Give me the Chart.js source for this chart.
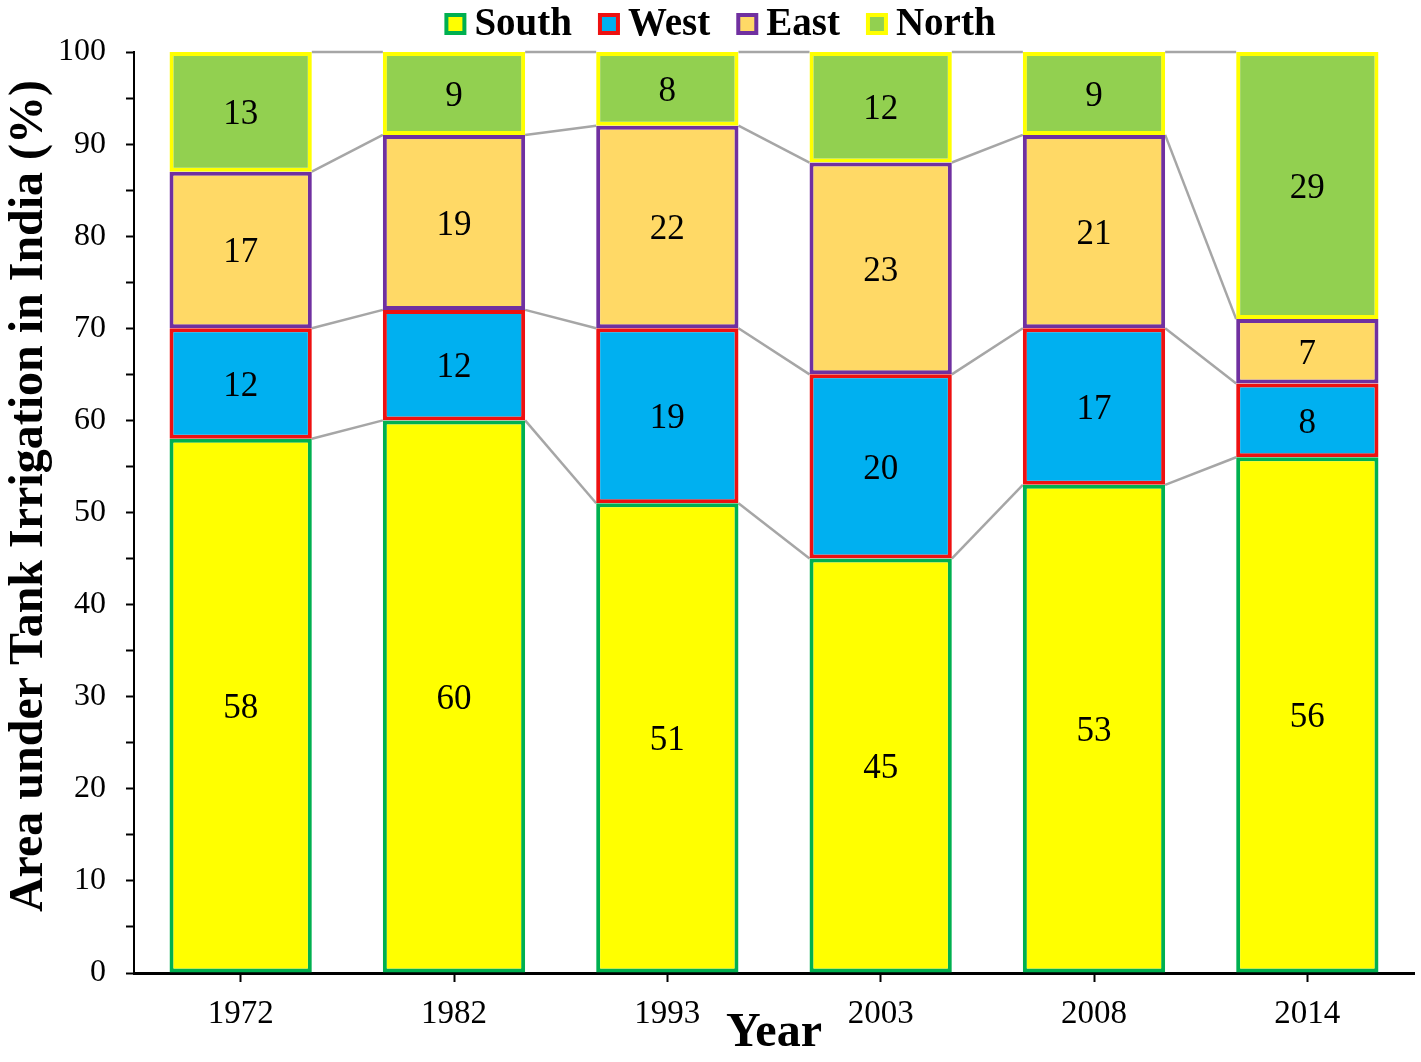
<!DOCTYPE html>
<html>
<head>
<meta charset="utf-8">
<script src="https://cdn.jsdelivr.net/npm/chart.js@4.4.1/dist/chart.umd.min.js"></script>
<style>
  html, body { margin: 0; padding: 0; background: #fff; }
  #wrap { width: 1421px; height: 1062px; }
</style>
</head>
<body>
<div id="wrap"><canvas id="tankChart" width="1421" height="1062"></canvas></div>
<script>
var years = ['1972', '1982', '1993', '2003', '2008', '2014'];
var south = [58, 60, 51, 45, 53, 56];
var west = [12, 12, 19, 20, 17, 8];
var east = [17, 19, 22, 23, 21, 7];
var north = [13, 9, 8, 12, 9, 29];
var yTicks = [0, 10, 20, 30, 40, 50, 60, 70, 80, 90, 100];

var serif = "'Liberation Serif', 'Times New Roman', serif";

// gray lines joining the tops of the same series in neighbouring bars
var seriesLines = {
    id: 'seriesLines',
    beforeDatasetsDraw: function (chart) {
        var ctx = chart.ctx;
        ctx.save();
        ctx.strokeStyle = '#A6A6A6';
        ctx.lineWidth = 2.5;
        chart.data.datasets.forEach(function (ds, d) {
            var bars = chart.getDatasetMeta(d).data;
            for (var i = 0; i < bars.length - 1; i++) {
                var a = bars[i], b = bars[i + 1];
                ctx.beginPath();
                ctx.moveTo(a.x + a.width / 2, a.y);
                ctx.lineTo(b.x - b.width / 2, b.y);
                ctx.stroke();
            }
        });
        ctx.restore();
    }
};

// values in the segments, legend row and the rotated y title
var extraText = {
    id: 'extraText',
    afterDatasetsDraw: function (chart) {
        var ctx = chart.ctx;
        ctx.save();
        ctx.fillStyle = '#000';
        ctx.font = '35px ' + serif;
        ctx.textAlign = 'center';
        ctx.textBaseline = 'middle';
        chart.data.datasets.forEach(function (ds, d) {
            chart.getDatasetMeta(d).data.forEach(function (bar, i) {
                ctx.fillText(String(ds.data[i]), bar.x, (bar.y + bar.base) / 2 + 3);
            });
        });
        ctx.restore();
    },
    afterDraw: function (chart) {
        var ctx = chart.ctx;
        ctx.save();
        ctx.translate(42, 496);
        ctx.rotate(-Math.PI / 2);
        ctx.fillStyle = '#000';
        ctx.font = 'bold 48px ' + serif;
        ctx.textAlign = 'center';
        ctx.textBaseline = 'alphabetic';
        ctx.fillText('Area under Tank Irrigation in India (%)', 0, 0);
        ctx.restore();

        // legend
        var box = 22, gapText = 8, gapItem = 26;
        ctx.save();
        ctx.font = 'bold 39px ' + serif;
        var total = 0;
        chart.data.datasets.forEach(function (ds, d) {
            total += box + gapText + ctx.measureText(ds.label).width;
            if (d > 0) total += gapItem;
        });
        var x = 720 - total / 2;
        chart.data.datasets.forEach(function (ds) {
            ctx.fillStyle = ds.borderColor;
            ctx.fillRect(x, 13, box, box);
            ctx.fillStyle = ds.backgroundColor;
            ctx.fillRect(x + 4, 17, box - 8, box - 8);
            x += box + gapText;
            ctx.fillStyle = '#000';
            ctx.textAlign = 'left';
            ctx.textBaseline = 'alphabetic';
            ctx.fillText(ds.label, x, 35);
            x += ctx.measureText(ds.label).width + gapItem;
        });
        ctx.restore();
    }
};

var ctx = document.getElementById('tankChart');
var tankChart = new Chart(ctx, {
    type: 'bar',
    data: {
        labels: years,
        datasets: [{
                label: 'South',
                data: south,
                backgroundColor: '#FFFF00',
                borderColor: '#00B050',
                borderWidth: 4,
                borderSkipped: false
            }, {
                label: 'West',
                data: west,
                backgroundColor: '#00B0F0',
                borderColor: '#EE1111',
                borderWidth: 4,
                borderSkipped: false
            }, {
                label: 'East',
                data: east,
                backgroundColor: '#FFD966',
                borderColor: '#7030A0',
                borderWidth: 4,
                borderSkipped: false
            }, {
                label: 'North',
                data: north,
                backgroundColor: '#92D050',
                borderColor: '#FFFF00',
                borderWidth: 4,
                borderSkipped: false
            }]
    },
    options: {
        responsive: false,
        animation: false,
        layout: { padding: { left: 0, right: 7, top: 52, bottom: 0 } },
        datasets: {
            bar: { categoryPercentage: 1.0, barPercentage: 0.667 }
        },
        plugins: {
            legend: { display: false },
            tooltip: { enabled: false }
        },
        scales: {
            x: {
                stacked: true,
                afterFit: function (scale) { scale.height = 89; },
                grid: {
                    drawOnChartArea: false,
                    drawTicks: true,
                    tickLength: 9,
                    tickWidth: 2,
                    tickColor: '#000',
                    offset: false
                },
                border: { color: '#000', width: 3 },
                ticks: {
                    color: '#000',
                    font: { family: serif, size: 33 },
                    padding: 13,
                    maxRotation: 0
                },
                title: {
                    display: true,
                    text: 'Year',
                    color: '#000',
                    font: { family: serif, size: 48, weight: 'bold' },
                    padding: { top: 0, bottom: 0 }
                }
            },
            y: {
                stacked: true,
                min: 0,
                max: 100,
                afterFit: function (scale) { scale.width = 134; },
                grid: {
                    drawOnChartArea: false,
                    drawTicks: true,
                    tickLength: 8,
                    tickWidth: 2,
                    tickColor: '#000'
                },
                border: { color: '#000', width: 2 },
                ticks: {
                    stepSize: 5,
                    color: '#000',
                    font: { family: serif, size: 32 },
                    padding: 20,
                    autoSkip: false,
                    callback: function (v) {
                        return yTicks.indexOf(v) >= 0 ? String(v) : '';
                    }
                }
            }
        }
    },
    plugins: [seriesLines, extraText]
});
</script>
</body>
</html>
